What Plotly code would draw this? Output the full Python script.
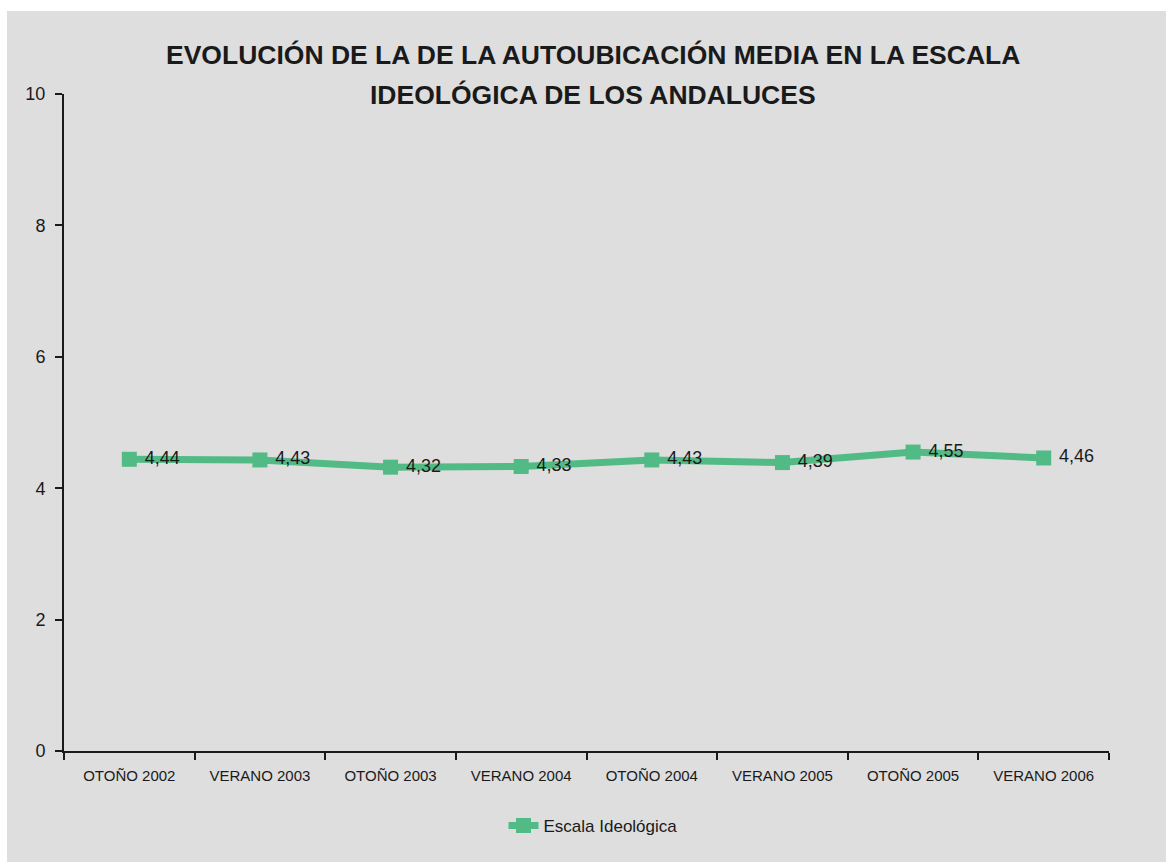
import plotly.graph_objects as go

# Survey waves and mean self-placement on the 0-10 ideological scale
periodos = ["OTOÑO 2002", "VERANO 2003", "OTOÑO 2003", "VERANO 2004",
            "OTOÑO 2004", "VERANO 2005", "OTOÑO 2005", "VERANO 2006"]
escala = [4.44, 4.43, 4.32, 4.33, 4.43, 4.39, 4.55, 4.46]
etiquetas = [" " + f"{v:.2f}".replace(".", ",") for v in escala]
y_ticks = [0, 2, 4, 6, 8, 10]
titulo = ["EVOLUCIÓN DE LA DE LA AUTOUBICACIÓN MEDIA EN LA ESCALA",
          "IDEOLÓGICA DE LOS ANDALUCES"]

W, H = 1166, 862
L, R, T, B = 64, 57, 94, 111
pw, ph = W - L - R, H - T - B

def px_x(p):
    return (p - L) / pw

def px_y(p):
    return (H - B - p) / ph

FONT = "Liberation Sans Narrow, Arial Narrow, Liberation Sans, Arial, sans-serif"
VERDE = "#52BA85"
BG = "#DEDEDE"
INK = "#1a1a1a"

fig = go.Figure()
fig.add_trace(go.Scatter(
    x=periodos, y=escala,
    mode="lines+markers+text",
    name="Escala Ideológica",
    line=dict(color=VERDE, width=7),
    marker=dict(symbol="square", size=15, color=VERDE),
    text=etiquetas,
    textposition="middle right",
    textfont=dict(family=FONT, size=18, color=INK),
    cliponaxis=False,
))

title_ann = [dict(
    text=line, xref="paper", yref="paper", x=px_x(593), y=px_y(yc),
    xanchor="center", yanchor="middle", showarrow=False,
    font=dict(family=FONT, size=26.5, color=INK, weight="bold"),
) for line, yc in zip(titulo, [55, 95])]

fig.update_layout(
    width=W, height=H,
    margin=dict(l=L, r=R, t=T, b=B),
    paper_bgcolor="white",
    plot_bgcolor="rgba(0,0,0,0)",
    font=dict(family=FONT, size=14, color=INK),
    showlegend=True,
    legend=dict(orientation="h", x=px_x(593), xanchor="center",
                y=px_y(826), yanchor="middle",
                font=dict(family=FONT, size=17, color=INK),
                bgcolor="rgba(0,0,0,0)"),
    shapes=[dict(type="rect", xref="paper", yref="paper", layer="below",
                 x0=px_x(7), x1=px_x(W + 5), y0=px_y(H + 5), y1=px_y(11),
                 fillcolor=BG, line=dict(width=0))],
    annotations=title_ann,
)

fig.update_xaxes(
    type="category", range=[-0.5, len(periodos) - 0.5],
    showline=True, linecolor=INK, linewidth=2,
    ticks="outside", tickson="boundaries", ticklen=7, tickwidth=2, tickcolor=INK,
    ticklabelstandoff=10,
    showgrid=False, zeroline=False,
    tickfont=dict(family=FONT, size=15, color=INK),
)
fig.update_yaxes(
    range=[0, 10], tickvals=y_ticks,
    showline=True, linecolor=INK, linewidth=2,
    ticks="outside", ticklen=7, tickwidth=2, tickcolor=INK,
    ticklabelstandoff=6,
    showgrid=False, zeroline=False,
    tickfont=dict(family=FONT, size=18, color=INK),
)

fig.write_html("out.html")
